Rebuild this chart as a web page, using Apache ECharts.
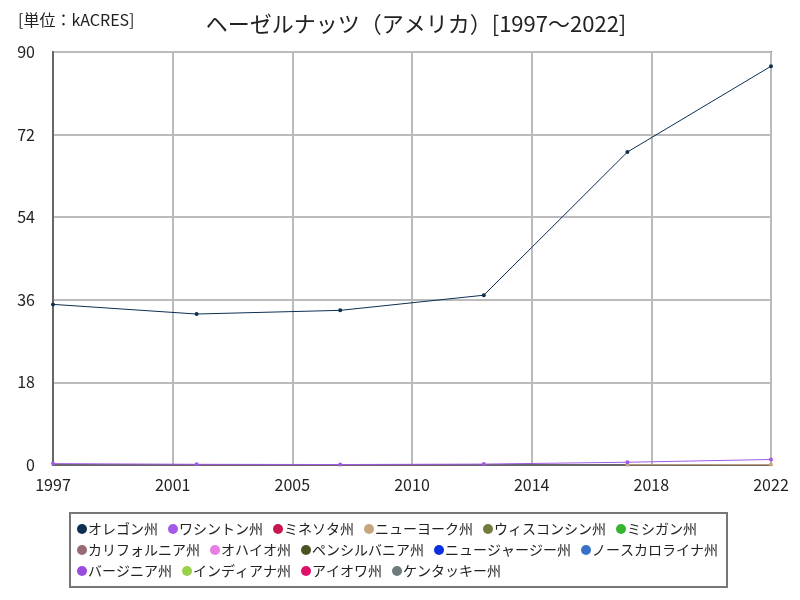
<!DOCTYPE html>
<html><head><meta charset="utf-8">
<script src="https://cdn.jsdelivr.net/npm/echarts@6/dist/echarts.min.js"></script>
<style>html,body{margin:0;padding:0;background:#fff}#c{width:800px;height:600px}</style>
</head><body><div id="c"></div>
<script>
const years = [1997, 2002, 2007, 2012, 2017, 2022];
const oregon = [35.0, 32.9, 33.7, 37.0, 68.2, 86.9];
const washington = [0.3, 0.15, 0.1, 0.2, 0.6, 1.2];
const minnesota = [];
const newYork = [null, null, null, null, 0.05, 0.1];
const emptySeries = [];
const yTicks = [0, 18, 36, 54, 72, 90];
const seriesNames = ['オレゴン州','ワシントン州','ミネソタ州','ニューヨーク州','ウィスコンシン州','ミシガン州','カリフォルニア州','オハイオ州','ペンシルバニア州','ニュージャージー州','ノースカロライナ州','バージニア州','インディアナ州','アイオワ州','ケンタッキー州'];
const seriesColors = ['#0d2f52','#a35ae6','#c8174f','#c8a57f','#757b3c','#35b52d','#9b6b73','#e67ee6','#4b5320','#0a2ee0','#3a72c8','#9b4be0','#9ad04a','#e0106a','#6e7b7b'];
const seriesData = [oregon, washington, minnesota, newYork];
const base = years[0];
const span = years[years.length-1] - years[0];

const series = seriesNames.map((n,i)=>({
  name:n, type:'line',
  data: (seriesData[i]||emptySeries).map((v,j)=> [years[j]-base, v]),
  symbol:'circle', symbolSize:4, showSymbol:true,
  lineStyle:{width:1, color:seriesColors[i]},
  itemStyle:{color:seriesColors[i]},
  z: 20 - i
}));

const chart = echarts.init(document.getElementById('c'), null, {renderer:'canvas'});
chart.setOption({
  animation:false,
  textStyle:{fontFamily:'"Noto Sans CJK JP", "Noto Sans", sans-serif'},
  title:[
    {text:'ヘーゼルナッツ（アメリカ）[1997～2022]', left:411, top:8, textAlign:'center',
     textStyle:{fontSize:22, fontWeight:'normal', color:'#222'}},
    {text:'[単位：kACRES]', left:13, top:7, textStyle:{fontSize:16, fontWeight:'normal', color:'#222'}}
  ],
  grid:{left:53, right:29, top:52, bottom:135, show:true, borderColor:'#777', borderWidth:2, backgroundColor:'transparent'},
  xAxis:{type:'value', min:0, max:span, interval:span/6,
    axisLine:{show:true, lineStyle:{color:'#666', width:2}},
    axisTick:{show:false},
    splitLine:{show:true, lineStyle:{color:'#bbb', width:2}},
    axisLabel:{fontSize:16, color:'#222', margin:12, formatter:v=>String(Math.round(base+v))}
  },
  yAxis:{type:'value', min:yTicks[0], max:yTicks[yTicks.length-1], interval:yTicks[1]-yTicks[0],
    axisLine:{show:true, lineStyle:{color:'#666', width:2}},
    axisTick:{show:false},
    splitLine:{show:true, lineStyle:{color:'#bbb', width:2}},
    axisLabel:{fontSize:16, color:'#222', margin:18}
  },
  legend:{data:seriesNames, left:70, top:513, width:658, itemWidth:10, itemHeight:10, itemGap:7,
    icon:'circle', borderColor:'#777', borderWidth:2, padding:[9,6,9,7],
    textStyle:{fontSize:14, color:'#222', padding:[0,3,0,-4], lineHeight:14}},
  series:series
});
</script></body></html>
